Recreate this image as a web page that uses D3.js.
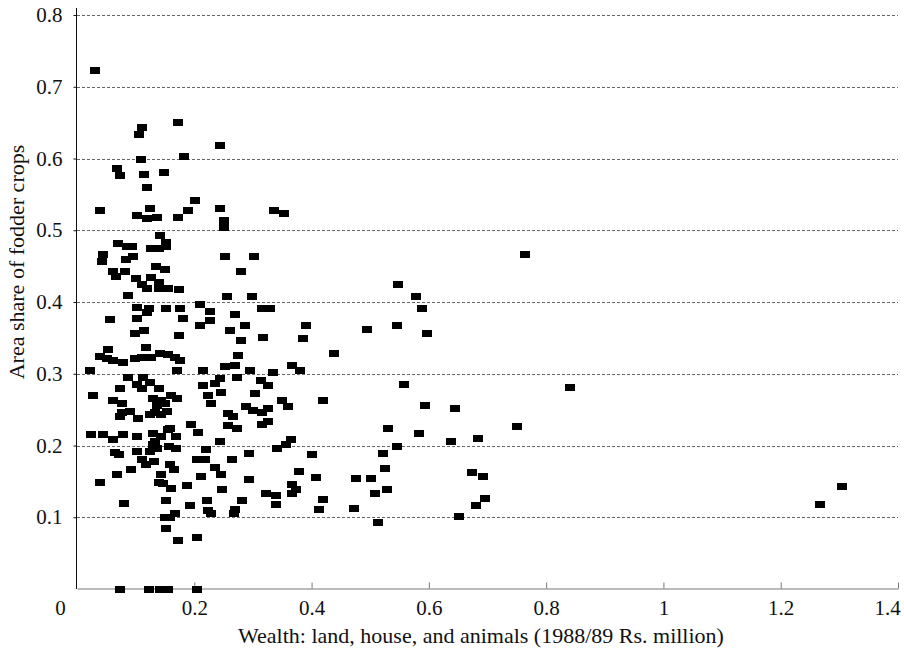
<!DOCTYPE html>
<html>
<head>
<meta charset="utf-8">
<script src="https://cdn.jsdelivr.net/npm/d3@7"></script>
<style>
  body { margin: 0; background: #fff; }
  text { font-family: "Liberation Serif", "Times New Roman", serif; fill: #111; }
</style>
</head>
<body>
<div id="chart"></div>
<script>
var W = 904, H = 649;

// wealth (Rs. million) and area share of fodder crops
var wealth = [
  0.031, 0.172, 0.110, 0.106, 0.244, 0.109, 0.182, 0.068, 0.073, 0.114,
  0.148, 0.120, 0.202, 0.039, 0.124, 0.103, 0.119, 0.137, 0.173, 0.189,
  0.244, 0.336, 0.353, 0.250, 0.250, 0.141, 0.070, 0.085, 0.093, 0.127,
  0.139, 0.152, 0.152, 0.045, 0.042, 0.096, 0.083, 0.252, 0.302, 0.135,
  0.150, 0.279, 0.061, 0.066, 0.082, 0.101, 0.126, 0.139, 0.110, 0.119,
  0.139, 0.156, 0.174, 0.087, 0.255, 0.298, 0.547, 0.210, 0.102, 0.123,
  0.152, 0.175, 0.120, 0.227, 0.315, 0.329, 0.270, 0.056, 0.102, 0.181,
  0.227, 0.210, 0.287, 0.390, 0.495, 0.545, 0.099, 0.114, 0.261, 0.174,
  0.279, 0.317, 0.385, 0.118, 0.053, 0.438, 0.039, 0.052, 0.062, 0.079,
  0.099, 0.110, 0.127, 0.141, 0.156, 0.167, 0.175, 0.170, 0.275, 0.023,
  0.215, 0.252, 0.269, 0.295, 0.334, 0.366, 0.380, 0.087, 0.113, 0.124,
  0.244, 0.272, 0.313, 0.102, 0.110, 0.073, 0.139, 0.215, 0.235, 0.326,
  0.246, 0.027, 0.303, 0.062, 0.076, 0.130, 0.144, 0.161, 0.170, 0.223,
  0.229, 0.136, 0.150, 0.288, 0.300, 0.315, 0.326, 0.350, 0.359, 0.419,
  0.557, 0.841, 0.593, 0.644, 0.076, 0.090, 0.073, 0.104, 0.124, 0.133,
  0.144, 0.153, 0.258, 0.266, 0.195, 0.258, 0.315, 0.158, 0.272, 0.326,
  0.530, 0.583, 0.751, 0.024, 0.045, 0.062, 0.079, 0.102, 0.129, 0.144,
  0.156, 0.169, 0.206, 0.133, 0.130, 0.136, 0.157, 0.169, 0.244, 0.341,
  0.356, 0.365, 0.545, 0.638, 0.683, 0.065, 0.072, 0.102, 0.124, 0.220,
  0.293, 0.401, 0.522, 0.110, 0.118, 0.131, 0.204, 0.218, 0.265, 0.158,
  0.165, 0.235, 0.245, 0.092, 0.069, 0.144, 0.212, 0.293, 0.378, 0.407,
  0.476, 0.502, 0.525, 0.674, 0.693, 0.039, 0.139, 0.147, 0.160, 0.187,
  0.248, 0.323, 0.366, 0.374, 0.366, 0.339, 0.529, 0.509, 0.695, 0.080,
  0.152, 0.221, 0.281, 0.340, 0.419, 0.193, 0.681, 0.223, 0.229, 0.270,
  0.268, 0.412, 0.472, 0.167, 0.150, 0.158, 0.651, 0.514, 0.152, 0.173,
  0.204, 0.764, 0.578, 0.589, 0.597, 1.304, 1.267, 0.073, 0.123, 0.141,
  0.156, 0.204
];
var fodderShare = [
  0.722, 0.650, 0.643, 0.634, 0.618, 0.599, 0.603, 0.586, 0.577, 0.578,
  0.581, 0.560, 0.541, 0.527, 0.530, 0.520, 0.516, 0.518, 0.518, 0.527,
  0.531, 0.528, 0.524, 0.514, 0.504, 0.492, 0.482, 0.477, 0.477, 0.474,
  0.474, 0.483, 0.477, 0.466, 0.457, 0.464, 0.459, 0.463, 0.464, 0.449,
  0.445, 0.443, 0.442, 0.436, 0.443, 0.433, 0.434, 0.427, 0.425, 0.419,
  0.419, 0.419, 0.417, 0.409, 0.408, 0.408, 0.424, 0.397, 0.392, 0.391,
  0.391, 0.391, 0.385, 0.387, 0.391, 0.391, 0.383, 0.375, 0.377, 0.377,
  0.374, 0.367, 0.367, 0.367, 0.362, 0.367, 0.356, 0.360, 0.360, 0.353,
  0.347, 0.351, 0.349, 0.337, 0.334, 0.328, 0.324, 0.321, 0.318, 0.316,
  0.321, 0.323, 0.323, 0.328, 0.327, 0.322, 0.319, 0.305, 0.325, 0.304,
  0.305, 0.310, 0.311, 0.304, 0.302, 0.311, 0.304, 0.295, 0.295, 0.288,
  0.294, 0.295, 0.290, 0.285, 0.279, 0.280, 0.279, 0.283, 0.286, 0.283,
  0.274, 0.270, 0.272, 0.263, 0.259, 0.266, 0.263, 0.270, 0.265, 0.269,
  0.259, 0.256, 0.259, 0.255, 0.249, 0.246, 0.252, 0.263, 0.255, 0.263,
  0.285, 0.281, 0.256, 0.252, 0.246, 0.247, 0.240, 0.237, 0.243, 0.246,
  0.243, 0.247, 0.245, 0.240, 0.229, 0.228, 0.229, 0.224, 0.224, 0.234,
  0.224, 0.217, 0.227, 0.216, 0.215, 0.209, 0.216, 0.213, 0.217, 0.213,
  0.222, 0.213, 0.218, 0.205, 0.201, 0.196, 0.199, 0.196, 0.205, 0.196,
  0.202, 0.209, 0.199, 0.206, 0.210, 0.190, 0.187, 0.191, 0.192, 0.194,
  0.189, 0.187, 0.189, 0.180, 0.173, 0.178, 0.181, 0.181, 0.180, 0.174,
  0.166, 0.170, 0.160, 0.166, 0.160, 0.160, 0.157, 0.153, 0.164, 0.156,
  0.154, 0.154, 0.168, 0.163, 0.157, 0.149, 0.148, 0.147, 0.140, 0.144,
  0.139, 0.133, 0.146, 0.139, 0.133, 0.130, 0.139, 0.133, 0.126, 0.119,
  0.124, 0.124, 0.123, 0.118, 0.125, 0.116, 0.117, 0.110, 0.105, 0.111,
  0.105, 0.111, 0.112, 0.105, 0.099, 0.099, 0.101, 0.093, 0.084, 0.068,
  0.072, 0.466, 0.408, 0.391, 0.356, 0.143, 0.118, 0, 0, 0,
  0, 0
];
var xTicks = [0, 0.2, 0.4, 0.6, 0.8, 1, 1.2, 1.4];
var yTicks = [0.1, 0.2, 0.3, 0.4, 0.5, 0.6, 0.7, 0.8];

var data = wealth.map(function (w, i) { return [w, fodderShare[i]]; });

var svg = d3.select("#chart").append("svg")
    .attr("width", W)
    .attr("height", H);

var x = d3.scaleLinear().domain([0, 1.4]).range([77, 898]);
var y = d3.scaleLinear().domain([0, 0.8]).range([589, 15]);

// dashed gridlines
svg.append("g")
    .selectAll("line")
    .data(yTicks)
    .enter().append("line")
    .attr("x1", x(0)).attr("x2", x(1.4))
    .attr("y1", function (d) { return Math.round(y(d)) + 0.5; })
    .attr("y2", function (d) { return Math.round(y(d)) + 0.5; })
    .attr("stroke", "#666")
    .attr("stroke-width", 1)
    .attr("stroke-dasharray", "3,2");

// x axis, ticks point up into the plot
var xAxis = svg.append("g")
    .attr("transform", "translate(0," + (y(0) - 0.5) + ")")
    .call(d3.axisBottom(x)
        .tickValues(xTicks)
        .tickSizeInner(-6)
        .tickSizeOuter(0)
        .tickPadding(12)
        .tickFormat(function (d) { return d3.format("~g")(d); }));
xAxis.select(".domain").attr("stroke", "#777").attr("stroke-width", 1.2);
xAxis.selectAll(".tick line").attr("stroke", "#777");
xAxis.selectAll(".tick text")
    .style("font-size", "21px")
    .style("font-family", "Liberation Serif")
    .attr("fill", "#111")
    .attr("dx", function (d) { return d === 0 ? -17 : (d === 1.4 ? -11 : 0); });
xAxis.selectAll(".tick").filter(function (d) { return d === 0; }).select("line").remove();

// y axis
var yAxis = svg.append("g")
    .attr("transform", "translate(" + (x(0) - 0.5) + ",0)")
    .call(d3.axisLeft(y)
        .tickValues(yTicks)
        .tickSizeInner(3)
        .tickSizeOuter(0)
        .tickPadding(11)
        .tickFormat(d3.format(".1f")));
yAxis.select(".domain").attr("d", "M0,8V" + y(0)).attr("stroke", "#111");
yAxis.selectAll(".tick line").attr("stroke", "#111");
yAxis.selectAll(".tick text")
    .style("font-size", "21px")
    .style("font-family", "Liberation Serif")
    .attr("fill", "#111");

// the points
svg.append("g")
    .selectAll("rect")
    .data(data)
    .enter().append("rect")
    .attr("x", function (d) { return Math.round(x(d[0]) - 5); })
    .attr("y", function (d) { return Math.round(y(d[1]) - 3.5); })
    .attr("width", 10)
    .attr("height", 7)
    .attr("fill", "#000")
    .attr("shape-rendering", "crispEdges");

// axis titles
svg.append("text")
    .attr("x", 481)
    .attr("y", 643)
    .style("text-anchor", "middle")
    .style("font-size", "22px")
    .text("Wealth: land, house, and animals (1988/89 Rs. million)");

svg.append("text")
    .attr("transform", "translate(24,262) rotate(-90)")
    .style("text-anchor", "middle")
    .style("font-size", "22px")
    .text("Area share of fodder crops");
</script>
</body>
</html>
